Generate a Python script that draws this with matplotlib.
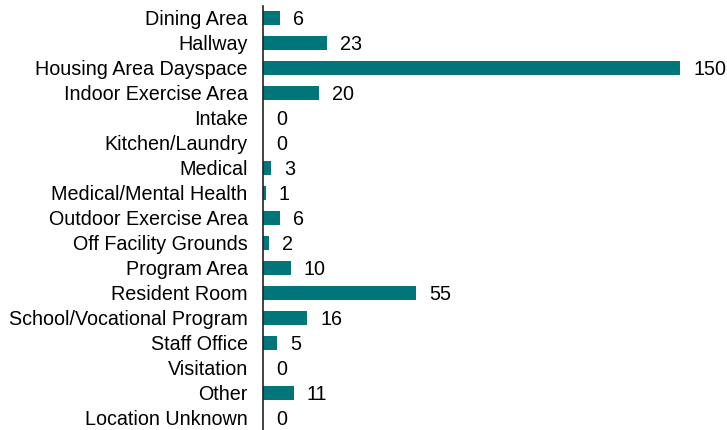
import matplotlib
matplotlib.use("Agg")
import matplotlib.pyplot as plt

categories = ["Dining Area", "Hallway", "Housing Area Dayspace", "Indoor Exercise Area",
              "Intake", "Kitchen/Laundry", "Medical", "Medical/Mental Health",
              "Outdoor Exercise Area", "Off Facility Grounds", "Program Area",
              "Resident Room", "School/Vocational Program", "Staff Office",
              "Visitation", "Other", "Location Unknown"]
values = [6, 23, 150, 20, 0, 0, 3, 1, 6, 2, 10, 55, 16, 5, 0, 11, 0]

plt.rcParams['font.family'] = ['Liberation Sans', 'DejaVu Sans']

fig = plt.figure(figsize=(7.27, 4.30), dpi=100)
ax = fig.add_axes([263/727, 0.0, (717-263)/727, 424.5/430])
y = list(range(len(categories)))
ax.barh(y, values, height=0.56, color="#00767A")
ax.set_ylim(len(categories) - 0.5, -0.5)
ax.set_xlim(0, (717-263)/2.78)
ax.set_yticks(y)
ax.set_yticklabels(categories, fontsize=14.2)
ax.tick_params(axis='y', length=0, pad=11)
ax.set_xticks([])
for s in ["top", "right", "bottom"]:
    ax.spines[s].set_visible(False)
ax.spines["left"].set_linewidth(1.2)
ax.spines["left"].set_color("#222222")
for yi, v in zip(y, values):
    ax.annotate(str(v), (v, yi), xytext=(9.5, 0), textcoords="offset points",
                va="center_baseline", ha="left", fontsize=14.2)
fig.savefig("out.png", dpi=100)
